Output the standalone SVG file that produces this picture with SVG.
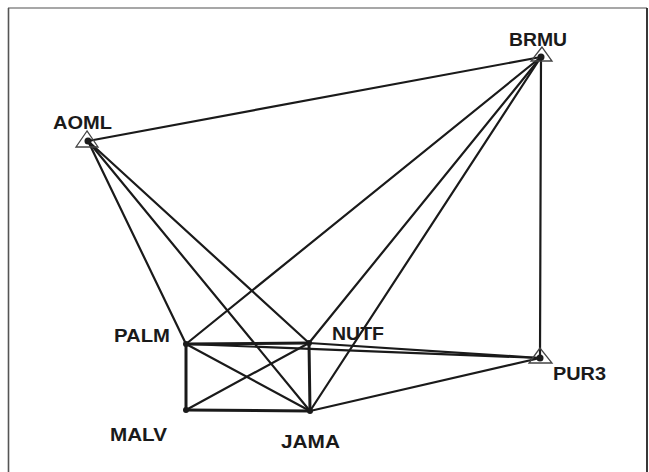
<svg xmlns="http://www.w3.org/2000/svg" width="649" height="472" viewBox="0 0 649 472">
<style>
.lbl{font-family:"Liberation Sans",Arial,sans-serif;font-weight:bold;font-size:18px;fill:#1a1a1a}
.e{stroke:#1a1a1a;stroke-width:2.2;fill:none;stroke-linecap:round}
.b{stroke:#1a1a1a;stroke-width:3;fill:none;stroke-linecap:round}
.tri{fill:none;stroke:#444;stroke-width:1.3}
.dot{fill:#1a1a1a}
</style>
<rect x="0" y="0" width="649" height="472" fill="#fff"/>
<g id="frame">
<line x1="8" y1="8" x2="647" y2="8" stroke="#8a8a8a" stroke-width="1.6"/>
<line x1="8.5" y1="8" x2="8.5" y2="472" stroke="#555" stroke-width="1.6"/>
<line x1="647" y1="8" x2="647" y2="472" stroke="#222" stroke-width="1.8"/>
</g>
<g id="connectors">
<line class="e" x1="88" y1="141" x2="541" y2="57"/>
<line class="e" x1="88" y1="141" x2="186" y2="344"/>
<line class="e" x1="88" y1="141" x2="309" y2="343"/>
<line class="e" x1="88" y1="141" x2="310" y2="411"/>
<line class="e" x1="541" y1="57" x2="186" y2="344"/>
<line class="e" x1="541" y1="57" x2="309" y2="343"/>
<line class="e" x1="541" y1="57" x2="310" y2="411"/>
<line class="e" x1="541" y1="57" x2="540" y2="358"/>
<line class="e" x1="540" y1="358" x2="186" y2="344"/>
<line class="e" x1="540" y1="358" x2="309" y2="343"/>
<line class="e" x1="540" y1="358" x2="310" y2="411"/>
<line class="b" x1="186" y1="344" x2="309" y2="343"/>
<line class="b" x1="186" y1="344" x2="186" y2="410"/>
<line class="e" x1="186" y1="344" x2="310" y2="411"/>
<line class="e" x1="309" y1="343" x2="186" y2="410"/>
<line class="b" x1="309" y1="343" x2="310" y2="411"/>
<line class="b" x1="186" y1="410" x2="310" y2="411"/>
</g>
<g id="AOML">
<polygon class="tri" points="87,131 76,147 98,147"/>
<circle class="dot" cx="88" cy="141" r="3.5"/>
<text class="lbl" x="53" y="129" textLength="59" lengthAdjust="spacingAndGlyphs">AOML</text>
</g>
<g id="BRMU">
<polygon class="tri" points="542,47 531,61 552,61"/>
<circle class="dot" cx="541" cy="57" r="3.5"/>
<text class="lbl" x="509" y="46" textLength="58" lengthAdjust="spacingAndGlyphs">BRMU</text>
</g>
<g id="PUR3">
<polygon class="tri" points="540,348 529,363 552,363"/>
<circle class="dot" cx="540" cy="358" r="3.5"/>
<text class="lbl" x="553" y="380" textLength="53" lengthAdjust="spacingAndGlyphs">PUR3</text>
</g>
<g id="PALM">
<circle class="dot" cx="186" cy="344" r="3"/>
<text class="lbl" x="114" y="342" textLength="56" lengthAdjust="spacingAndGlyphs">PALM</text>
</g>
<g id="NUTF">
<circle class="dot" cx="309" cy="343" r="3"/>
<text class="lbl" x="332" y="340" textLength="52" lengthAdjust="spacingAndGlyphs">NUTF</text>
</g>
<g id="MALV">
<circle class="dot" cx="186" cy="410" r="3"/>
<text class="lbl" x="110" y="441" textLength="57" lengthAdjust="spacingAndGlyphs">MALV</text>
</g>
<g id="JAMA">
<circle class="dot" cx="310" cy="411" r="3"/>
<text class="lbl" x="281" y="448" textLength="59" lengthAdjust="spacingAndGlyphs">JAMA</text>
</g>
</svg>
